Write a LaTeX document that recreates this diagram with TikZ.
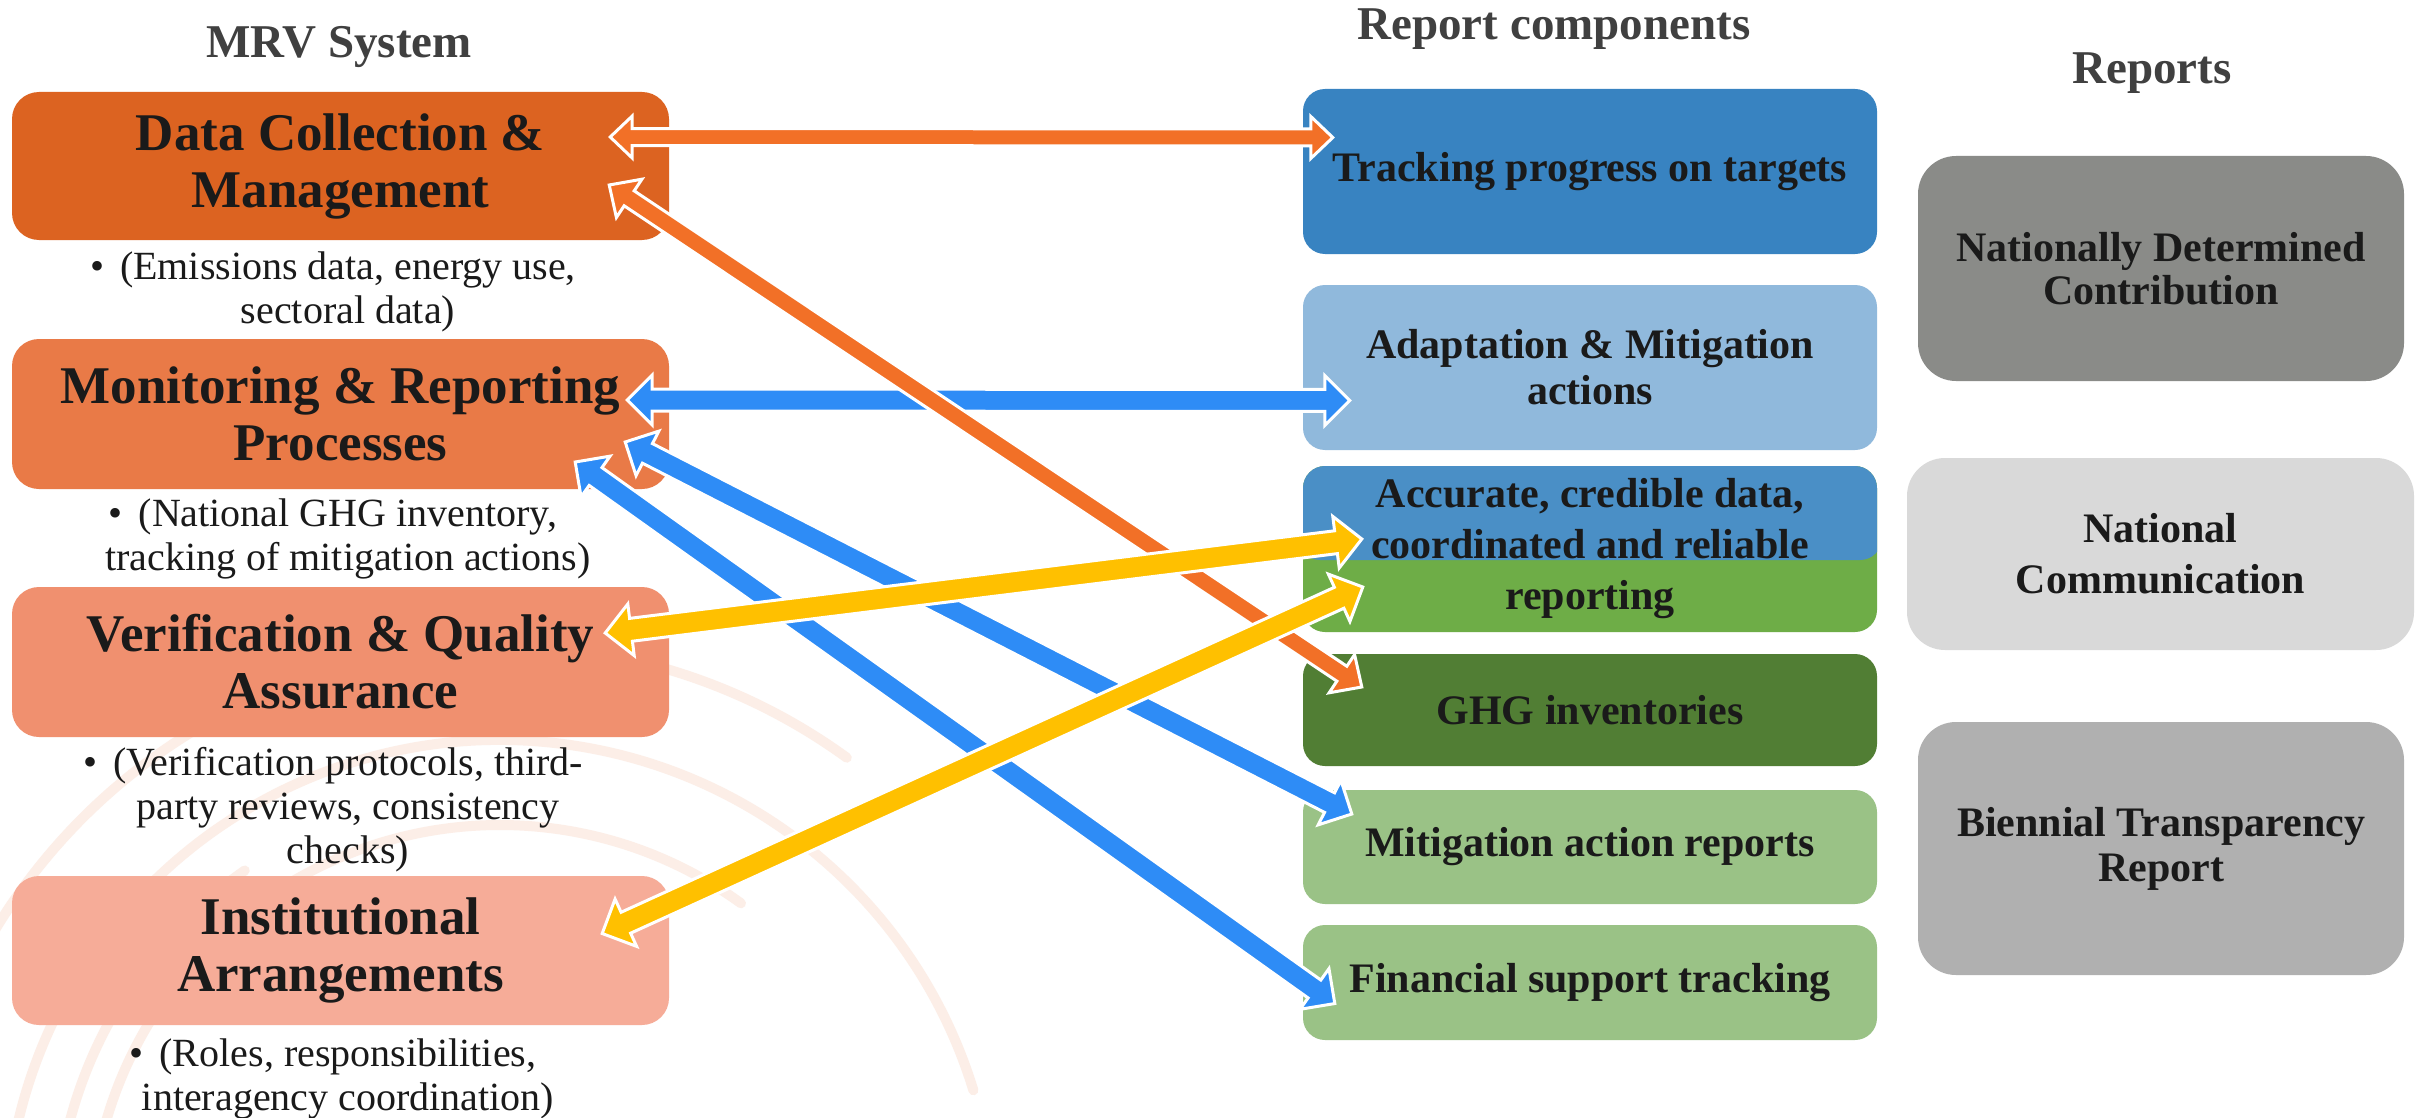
\documentclass[tikz,border=0pt]{standalone}
\usepackage{fontspec}
\setmainfont{Liberation Serif}
\usetikzlibrary{calc}
\definecolor{cDC}{HTML}{DC6321}
\definecolor{cMR}{HTML}{E97A47}
\definecolor{cVQ}{HTML}{F0906F}
\definecolor{cIA}{HTML}{F6AC98}
\definecolor{cTR}{HTML}{3883C1}
\definecolor{cAD}{HTML}{90B9DC}
\definecolor{cACt}{HTML}{4A8FC6}
\definecolor{cACb}{HTML}{6EAD47}
\definecolor{cGH}{HTML}{517E34}
\definecolor{cLG}{HTML}{9AC286}
\definecolor{cND}{HTML}{8A8B88}
\definecolor{cNC}{HTML}{D9D9D9}
\definecolor{cBT}{HTML}{B0B0B0}
\definecolor{aOr}{HTML}{F27027}
\definecolor{aBl}{HTML}{2E8CF6}
\definecolor{aYe}{HTML}{FFC000}
\definecolor{cArc}{HTML}{FCEEE7}
\definecolor{cTxt}{HTML}{1A1A1A}
\definecolor{cTitle}{HTML}{404040}

% #1 colour, #2 from, #3 to, #4 shaft half width, #5 head half width, #6 head length
\newcommand\blockarrow[6]{%
 \filldraw[fill=#1,draw=white,line width=3pt,line join=miter]
 (#2) -- ($(#2)!#6!(#3)!#5!90:(#3)$) -- ($(#2)!#6!(#3)!#4!90:(#3)$)
 -- ($(#3)!#6!(#2)!#4!-90:(#2)$) -- ($(#3)!#6!(#2)!#5!-90:(#2)$)
 -- (#3) -- ($(#3)!#6!(#2)!#5!90:(#2)$) -- ($(#3)!#6!(#2)!#4!90:(#2)$)
 -- ($(#2)!#6!(#3)!#4!-90:(#3)$) -- ($(#2)!#6!(#3)!#5!-90:(#3)$) -- cycle;}

\begin{document}
\begin{tikzpicture}[x=1pt,y=-1pt,
 lbox/.style={rounded corners=27pt, inner sep=0pt, align=center, text=cTxt, minimum width=657pt, font=\bfseries\fontsize{53}{57}\selectfont},
 btext/.style={inner sep=0pt, align=center, text=cTxt, font=\fontsize{40}{44}\selectfont},
 mbox/.style={rounded corners=22pt, inner sep=0pt, align=center, text=cTxt, minimum width=574pt, font=\bfseries\fontsize{42}{48}\selectfont},
 rbox/.style={rounded corners=38pt, inner sep=0pt, align=center, text=cTxt, font=\bfseries\fontsize{42}{46}\selectfont},
 ttl/.style={inner sep=0pt, text=cTitle, font=\bfseries\fontsize{47}{50}\selectfont},
 swirl/.style={draw=cArc, line width=10pt, line cap=round}]

\useasboundingbox (0,0) rectangle (2417,1118);
\fill[white] (0,0) rectangle (2417,1118);

% faint background swirl
\coordinate (sc) at (500,1235);
\draw[swirl] (sc) ++(-168:410) arc[start angle=-168, end angle=-54, radius=410];
\draw[swirl] (sc) ++(-172:445) arc[start angle=-172, end angle=-125, radius=445];
\draw[swirl] (sc) ++(-170:495) arc[start angle=-170, end angle=-17, radius=495];
\draw[swirl] (sc) ++(-160:590) arc[start angle=-160, end angle=-54, radius=590];

% titles
\node[ttl] (tMRV) at (339,47) {MRV System};
\node[ttl] (tRC) at (1554,29) {Report components};
\node[ttl] (tRep) at (2152,73) {Reports};

% left column
\node[lbox, fill=cDC, minimum height=148pt] (dc) at (340.5,166) {Data Collection \&\\Management};
\node[lbox, fill=cMR, minimum height=150pt] (mr) at (340.5,414) {Monitoring \& Reporting\\Processes};
\node[lbox, fill=cVQ, minimum height=150pt] (vq) at (340.5,662) {Verification \& Quality\\Assurance};
\node[lbox, fill=cIA, minimum height=149pt] (ia) at (340.5,950.5) {Institutional\\Arrangements};

\node[btext] (dcB) at (348,292) {\llap{\textbullet\hspace{16pt}}(Emissions data, energy use,\\sectoral data)};
\node[btext] (mrB) at (348,539) {\llap{\textbullet\hspace{16pt}}(National GHG inventory,\\tracking of mitigation actions)};
\node[btext] (vqB) at (348,810) {\llap{\textbullet\hspace{16pt}}(Verification protocols, third-\\party reviews, consistency\\checks)};
\node[btext] (iaB) at (348,1079) {\llap{\textbullet\hspace{16pt}}(Roles, responsibilities,\\interagency coordination)};

% middle column
\node[mbox, fill=cTR, minimum height=165pt] (tr) at (1590,171.5) {Tracking progress on targets};
\node[mbox, fill=cAD, minimum height=165pt, font=\bfseries\fontsize{42}{46}\selectfont] (ad) at (1590,367.5) {Adaptation \& Mitigation\\actions};
\node[mbox, minimum height=166pt, font=\bfseries\fontsize{42}{51}\selectfont,
 path picture={
  \fill[cACb] ($(path picture bounding box.north west)+(-5,-5)$) rectangle ($(path picture bounding box.south east)+(5,5)$);
  \fill[cACt] ($(path picture bounding box.north west)+(-5,-5)$) rectangle ($(path picture bounding box.east)+(5,11)$);}] (ac) at (1590,549) {Accurate, credible data,\\coordinated and reliable\\reporting};
\node[mbox, fill=cGH, minimum height=112pt] (gh) at (1590,710) {GHG inventories};
\node[mbox, fill=cLG, minimum height=114pt] (mi) at (1590,847) {Mitigation action reports};
\node[mbox, fill=cLG, minimum height=115pt] (fi) at (1590,982.5) {Financial support tracking};

% right column
\node[rbox, fill=cND, minimum width=486pt, minimum height=225pt, font=\bfseries\fontsize{42}{43}\selectfont] (nd) at (2161,268.5) {Nationally Determined\\Contribution};
\node[rbox, fill=cNC, minimum width=507pt, minimum height=192pt, font=\bfseries\fontsize{42}{51}\selectfont] (nc) at (2160.5,554) {National\\Communication};
\node[rbox, fill=cBT, minimum width=486pt, minimum height=253pt, font=\bfseries\fontsize{42}{45}\selectfont] (bt) at (2161,848.5) {Biennial Transparency\\Report};

% arrow end points
\coordinate (dcT1) at ($(dc.east)+(-59,-29)$);
\coordinate (dcT2) at ($(dc.east)+(-60,19)$);
\coordinate (trT) at ($(tr.west)+(30,-34)$);
\coordinate (ghT) at ($(gh.west)+(59,-23)$);
\coordinate (mrT1) at ($(mr.east)+(-42,-14)$);
\coordinate (mrT2) at ($(mr.east)+(-44,28)$);
\coordinate (mrT3) at ($(mr.east)+(-94,48)$);
\coordinate (adT) at ($(ad.west)+(47,33)$);
\coordinate (miT) at ($(mi.west)+(49,-33)$);
\coordinate (fiT) at ($(fi.west)+(32,21)$);
\coordinate (vqT) at ($(vq.east)+(-64,-29)$);
\coordinate (acT1) at ($(ac.west)+(59,-10)$);
\coordinate (acT2) at ($(ac.west)+(60,38)$);
\coordinate (iaT) at ($(ia.east)+(-67,-17)$);

% arrows
\blockarrow{aBl}{mrT1}{adT}{11pt}{25pt}{25pt}
\blockarrow{aBl}{mrT2}{miT}{11pt}{25pt}{25pt}
\blockarrow{aBl}{mrT3}{fiT}{11pt}{25pt}{25pt}
\blockarrow{aOr}{dcT1}{trT}{8.5pt}{21pt}{22pt}
\blockarrow{aOr}{dcT2}{ghT}{9pt}{23pt}{24pt}
\blockarrow{aYe}{vqT}{acT1}{11.5pt}{26pt}{26pt}
\blockarrow{aYe}{iaT}{acT2}{11.5pt}{26pt}{26pt}
\end{tikzpicture}
\end{document}
